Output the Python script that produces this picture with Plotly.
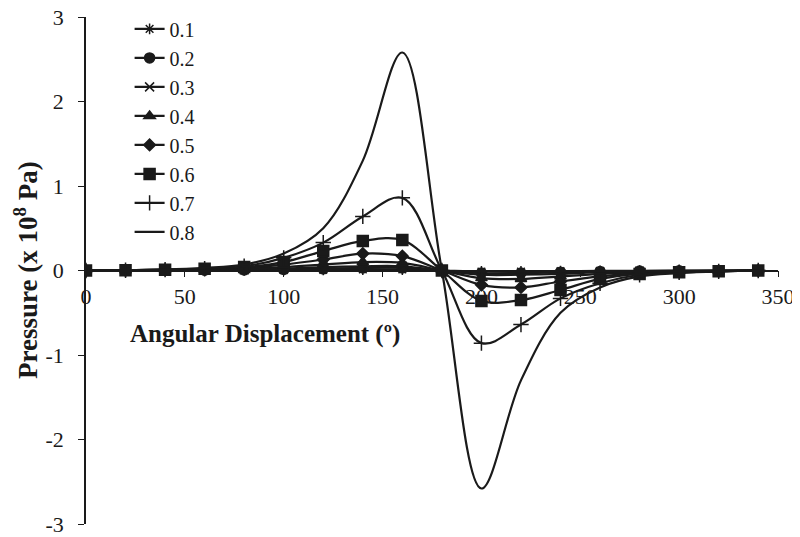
import plotly.graph_objects as go

angles = [0, 20, 40, 60, 80, 100, 120, 140, 160, 180, 200, 220, 240, 260, 280, 300, 320, 340]

p01 = [0, 0, 0.001, 0.002, 0.003, 0.005, 0.008, 0.012, 0.012, 0, -0.012, -0.012, -0.008, -0.005, -0.003, -0.002, -0.001, 0]
p02 = [0, 0, 0.002, 0.004, 0.007, 0.012, 0.02, 0.03, 0.03, 0, -0.03, -0.03, -0.02, -0.012, -0.007, -0.004, -0.002, 0]
p03 = [0, 0.001, 0.003, 0.006, 0.01, 0.02, 0.04, 0.05, 0.05, 0, -0.05, -0.05, -0.04, -0.02, -0.01, -0.006, -0.003, 0]
p04 = [0, 0.001, 0.005, 0.01, 0.02, 0.04, 0.07, 0.10, 0.09, 0, -0.09, -0.10, -0.07, -0.04, -0.02, -0.01, -0.005, 0]
p05 = [0, 0.002, 0.008, 0.015, 0.03, 0.07, 0.13, 0.20, 0.17, 0, -0.17, -0.20, -0.13, -0.07, -0.03, -0.015, -0.008, 0]
p06 = [0, 0.003, 0.01, 0.02, 0.04, 0.10, 0.23, 0.35, 0.36, 0, -0.36, -0.35, -0.23, -0.10, -0.04, -0.02, -0.01, 0]
p07 = [0, 0.003, 0.01, 0.02, 0.05, 0.15, 0.33, 0.64, 0.86, 0, -0.86, -0.64, -0.33, -0.15, -0.05, -0.02, -0.01, 0]
p08 = [0, 0.005, 0.01, 0.03, 0.07, 0.20, 0.50, 1.30, 2.58, 0, -2.58, -1.30, -0.50, -0.20, -0.07, -0.03, -0.01, 0]

series_names = ["0.1", "0.2", "0.3", "0.4", "0.5", "0.6", "0.7", "0.8"]
series_values = [p01, p02, p03, p04, p05, p06, p07, p08]
series_symbols = ["asterisk-open", "circle", "x-thin-open", "triangle-up", "diamond", "square", "cross-thin-open", None]
series_sizes = [9, 10, 9, 10, 9, 11, 11, 0]

y_ticks = [-3, -2, -1, 0, 1, 2, 3]
y_ticktext = ["-3", "-2", "-1", "0", "1", "2", "3"]
x_ticks = [0, 50, 100, 150, 200, 250, 300, 350]

FONT = "Liberation Serif"

fig = go.Figure()
for name, vals, sym, sz in zip(series_names, series_values, series_symbols, series_sizes):
    if sym is None:
        fig.add_trace(go.Scatter(x=angles, y=vals, name=name, mode="lines",
                                 line=dict(color="#1a1a1a", width=2.2, shape="spline")))
    else:
        fig.add_trace(go.Scatter(x=angles, y=vals, name=name, mode="lines+markers",
                                 line=dict(color="#1a1a1a", width=2.2, shape="spline"),
                                 marker=dict(symbol=sym, size=sz, color="#1a1a1a",
                                             line=dict(color="#1a1a1a", width=1.5))))

fig.update_layout(
    width=792, height=529,
    margin=dict(l=78, r=22, t=9, b=13, autoexpand=False),
    plot_bgcolor="white", paper_bgcolor="white",
    font=dict(family=FONT, size=22, color="#1a1a1a"),
    showlegend=True,
    legend=dict(x=0.063, y=1.015, xanchor="left", yanchor="top",
                bgcolor="rgba(0,0,0,0)", font=dict(family=FONT, size=20),
                tracegroupgap=0),
    xaxis=dict(range=[0, 350], tickvals=x_ticks, showgrid=False, zeroline=False,
               showline=True, linecolor="#1a1a1a", linewidth=1.5,
               ticks="outside", ticklen=6, tickcolor="#1a1a1a", automargin=False,
               ticklabeloverflow="allow",
               anchor="free", position=0.5, tickfont=dict(family=FONT, size=22)),
    yaxis=dict(range=[-3, 3], tickvals=y_ticks, ticktext=y_ticktext, showgrid=False,
               zeroline=False, showline=True, linecolor="#1a1a1a", linewidth=1.5,
               ticks="outside", ticklen=6, tickcolor="#1a1a1a", automargin=False,
               ticklabeloverflow="allow", ticklabelstandoff=10,
               tickfont=dict(family=FONT, size=22)),
    annotations=[
        dict(text="<b>Angular Displacement (º)</b>", x=0.258, y=0.375,
             xref="paper", yref="paper", xanchor="center", yanchor="middle",
             showarrow=False, font=dict(family=FONT, size=25)),
        dict(text="<b>Pressure (x 10<sup>8</sup> Pa)</b>", x=-0.0874, y=0.5,
             xref="paper", yref="paper", xanchor="center", yanchor="middle",
             textangle=-90, showarrow=False, font=dict(family=FONT, size=27)),
    ],
)

fig.write_html("out.html")
